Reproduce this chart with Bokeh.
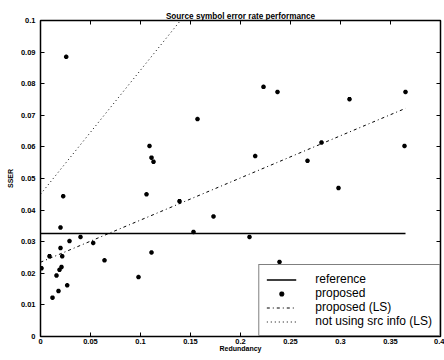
from bokeh.plotting import figure
from bokeh.models import FixedTicker, LinearAxis, Legend, LegendItem, Range1d
from bokeh.embed import file_html
from bokeh.resources import INLINE

# ---- data ----
x_ticks = [0, 0.05, 0.1, 0.15, 0.2, 0.25, 0.3, 0.35, 0.4]
x_tick_labels = ["0", "0.05", "0.1", "0.15", "0.2", "0.25", "0.3", "0.35", "0.4"]
y_ticks = [0, 0.01, 0.02, 0.03, 0.04, 0.05, 0.06, 0.07, 0.08, 0.09, 0.1]
y_tick_labels = ["0", "0.01", "0.02", "0.03", "0.04", "0.05", "0.06", "0.07", "0.08", "0.09", "0.1"]

proposed_x = [0.0257, 0.223, 0.237, 0.309, 0.365, 0.157,
              0.2147, 0.267, 0.281, 0.364, 0.298, 0.209, 0.239,
              0.109, 0.111, 0.113, 0.106, 0.139, 0.173, 0.153, 0.111, 0.098, 0.064,
              0.0227, 0.020, 0.029, 0.040, 0.0527, 0.020, 0.0217, 0.009,
              0.021, 0.019, 0.016, 0.0267, 0.018, 0.012, 0.001]
proposed_y = [0.0885, 0.0790, 0.0774, 0.0751, 0.0774, 0.0688,
              0.0571, 0.0556, 0.0614, 0.0603, 0.0470, 0.0315, 0.0236,
              0.0603, 0.0566, 0.0553, 0.0450, 0.0428, 0.0380, 0.0331, 0.0266, 0.0188, 0.0241,
              0.0444, 0.0345, 0.0302, 0.0315, 0.0296, 0.0280, 0.0254, 0.0254,
              0.0220, 0.0211, 0.0193, 0.0162, 0.0144, 0.0123, 0.0216]

reference_x = [0, 0.365]
reference_y = [0.0326, 0.0326]
proposed_ls_x = [0, 0.365]
proposed_ls_y = [0.0235, 0.0722]
nosrc_ls_x = [0, 0.14]
nosrc_ls_y = [0.045, 0.1]

FONT = "Liberation Sans"

p = figure(width=444, height=360, output_backend="svg", toolbar_location=None,
           x_range=Range1d(0, 0.4), y_range=Range1d(0, 0.1),
           min_border_left=40, min_border_right=4, min_border_top=20, min_border_bottom=24)
p.background_fill_color = "white"
p.border_fill_color = "white"
p.xgrid.visible = False
p.ygrid.visible = False
p.outline_line_color = "black"
p.outline_line_width = 1.5

p.title.text = "Source symbol error rate performance"
p.title.text_font = FONT
p.title.text_font_size = "8.2px"
p.title.text_font_style = "bold"
p.title.text_color = "black"
p.title.align = "center"
p.title.standoff = 0
p.title.offset = 0

def style_axis(ax, ticks, labels, show_labels=True):
    ax.ticker = FixedTicker(ticks=ticks)
    ax.major_label_overrides = {t: l for t, l in zip(ticks, labels)}
    ax.minor_tick_line_color = None
    ax.major_tick_in = 4
    ax.major_tick_out = 0
    ax.major_tick_line_color = "black"
    ax.major_tick_line_width = 1
    ax.axis_line_color = None
    ax.major_label_text_font = FONT
    ax.major_label_text_font_style = "bold"
    ax.major_label_text_color = "black"
    ax.axis_label_text_font = FONT
    ax.axis_label_text_font_style = "bold"
    ax.axis_label_text_font_size = "7px"
    ax.axis_label_text_color = "black"
    if show_labels:
        ax.major_label_text_font_size = "7.5px"
    else:
        ax.major_label_text_font_size = "0px"
        ax.major_label_text_alpha = 0
        ax.major_label_standoff = 0

xa = p.xaxis[0]
style_axis(xa, x_ticks, x_tick_labels)
xa.axis_label = "Redundancy"
xa.major_label_standoff = 2
xa.axis_label_standoff = -2

ya = p.yaxis[0]
style_axis(ya, y_ticks, y_tick_labels)
ya.axis_label = "SSER"
ya.major_label_standoff = 5
ya.axis_label_standoff = 4

top_ax = LinearAxis()
style_axis(top_ax, x_ticks, x_tick_labels, show_labels=False)
p.add_layout(top_ax, "above")
right_ax = LinearAxis()
style_axis(right_ax, y_ticks, y_tick_labels, show_labels=False)
p.add_layout(right_ax, "right")

r_ref = p.line(reference_x, reference_y, line_color="black", line_width=1.5)
r_prop = p.scatter(proposed_x, proposed_y, marker="asterisk", size=4.5,
                   line_color="black", line_width=1.6)
r_pls = p.line(proposed_ls_x, proposed_ls_y, line_color="black", line_width=1,
               line_dash="3 3 1 3")
r_nls = p.line(nosrc_ls_x, nosrc_ls_y, line_color="black", line_width=1,
               line_dash="1 3")

legend = Legend(items=[
    LegendItem(label="reference", renderers=[r_ref]),
    LegendItem(label="proposed", renderers=[r_prop]),
    LegendItem(label="proposed (LS)", renderers=[r_pls]),
    LegendItem(label="not using src info (LS)", renderers=[r_nls]),
], location="bottom_right")
legend.margin = 0
legend.padding = 7
legend.spacing = 0
legend.glyph_width = 30
legend.glyph_height = 13
legend.label_height = 13
legend.label_standoff = 19
legend.label_text_font = FONT
legend.label_text_font_size = "12px"
legend.label_text_color = "black"
legend.border_line_color = "black"
legend.border_line_width = 1.5
legend.background_fill_color = "white"
legend.background_fill_alpha = 1
p.add_layout(legend, "center")

open("out.html", "w").write(file_html(p, INLINE))
